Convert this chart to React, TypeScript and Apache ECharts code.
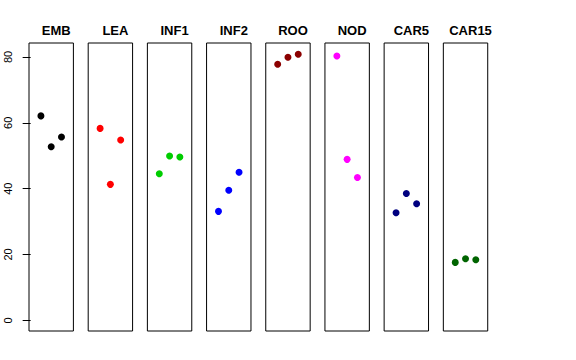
import React, { useEffect, useRef } from "react";
import * as echarts from "echarts";

const categories = ["EMB", "LEA", "INF1", "INF2", "ROO", "NOD", "CAR5", "CAR15"];
const rep1 = [62.1, 58.3, 44.5, 33.1, 77.8, 80.3, 32.7, 17.6];
const rep2 = [52.7, 41.3, 49.9, 39.5, 79.9, 48.9, 38.5, 18.7];
const rep3 = [55.7, 54.8, 49.6, 45.0, 80.8, 43.4, 35.4, 18.4];
const replicatePositions = [1, 2, 3];
const yTicks = [0, 20, 40, 60, 80];
const colors = ["#000000", "#FF0000", "#00CD00", "#0000FF", "#8B0000", "#FF00FF", "#000080", "#006400"];

export default function App() {
  const ref = useRef<HTMLDivElement>(null);
  useEffect(() => {
    if (!ref.current) return;
    const chart = echarts.init(ref.current, null, { renderer: "svg" });
    const left0 = 29;
    const step = 59.19;
    const width = 44.4;
    const top = 43;
    const height = 288;
    const grids: any[] = [];
    const xAxes: any[] = [];
    const yAxes: any[] = [];
    const series: any[] = [];
    const titles: any[] = [];
    categories.forEach((cat, i) => {
      const left = left0 + i * step;
      grids.push({
        left,
        top,
        width,
        height,
        show: true,
        borderColor: "#000",
        borderWidth: 1,
        backgroundColor: "transparent",
        containLabel: false,
      });
      xAxes.push({
        type: "value",
        gridIndex: i,
        min: -0.16,
        max: 4.16,
        show: false,
      });
      yAxes.push({
        type: "value",
        gridIndex: i,
        min: -3.24,
        max: 84.24,
        show: i === 0,
        splitLine: { show: false },
        axisLine: { show: false },
        axisTick: {
          show: i === 0,
          length: 8,
          customValues: yTicks,
          lineStyle: { color: "#000", width: 1 },
        },
        axisLabel: {
          show: i === 0,
          customValues: yTicks,
          rotate: 90,
          margin: 16,
          color: "#000",
          fontSize: 11,
          fontFamily: "Liberation Sans, Arial, sans-serif",
        },
      });
      series.push({
        type: "scatter",
        xAxisIndex: i,
        yAxisIndex: i,
        symbol: "circle",
        symbolSize: 7,
        itemStyle: { color: colors[i], opacity: 1 },
        data: replicatePositions.map((x, k) => [x, [rep1, rep2, rep3][k][i]]),
      });
      titles.push({
        text: cat,
        left: left + width / 2,
        top: 19,
        textAlign: "center",
        textStyle: {
          fontSize: 13,
          fontWeight: "bold",
          color: "#000",
          fontFamily: "Liberation Sans, Arial, sans-serif",
        },
      });
    });
    chart.setOption({
      animation: false,
      backgroundColor: "#fff",
      title: titles,
      grid: grids,
      xAxis: xAxes,
      yAxis: yAxes,
      series,
    });
    return () => chart.dispose();
  }, []);
  return <div ref={ref} style={{ width: 576, height: 360, position: "absolute", left: 0, top: 0 }} />;
}
